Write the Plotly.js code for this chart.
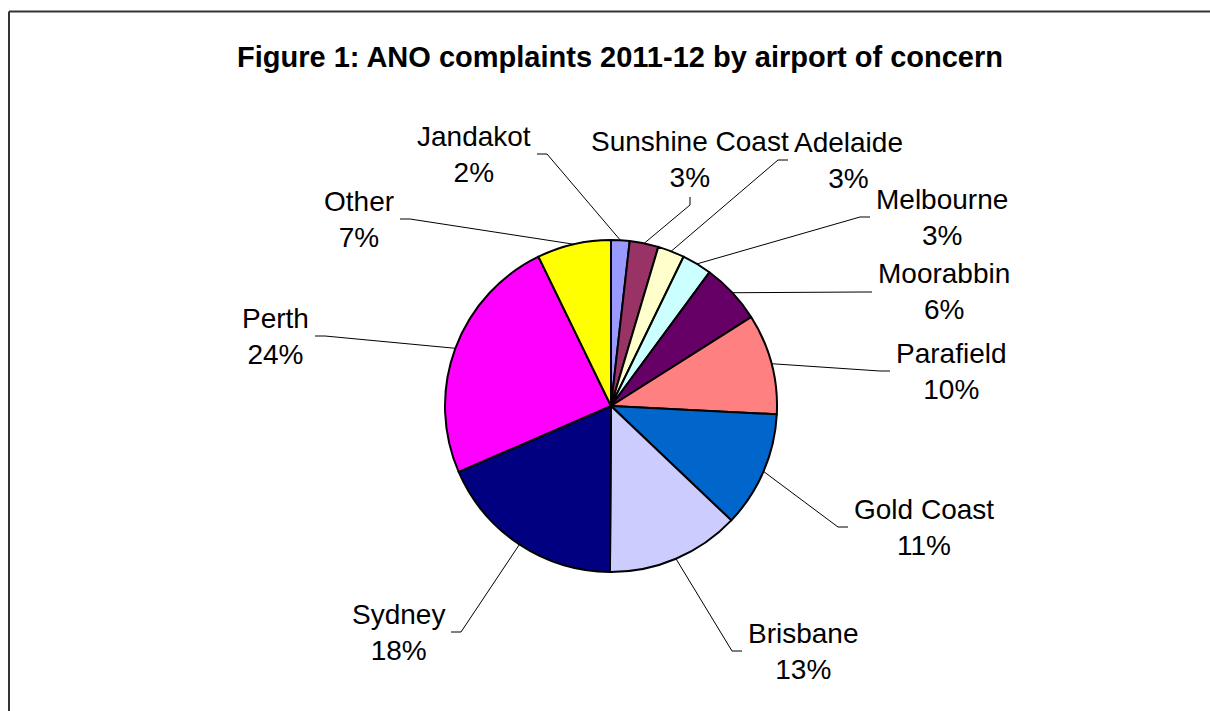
<!DOCTYPE html>
<html><head><meta charset="utf-8">
<script src="https://cdn.plot.ly/plotly-3.0.1.min.js"></script>
<style>html,body{margin:0;padding:0;background:#fff;overflow:hidden}#chart{width:1210px;height:711px}</style>
</head><body><div id="chart"></div>
<script>
// ---- data ----
const airports = ["Jandakot","Sunshine Coast","Adelaide","Melbourne","Moorabbin","Parafield","Gold Coast","Brisbane","Sydney","Perth","Other"];
const shares   = [1.8, 2.8, 2.6, 2.9, 5.9, 9.8, 11.3, 13.0, 18.4, 24.3, 7.2];
const colors   = ["#9999FF","#993366","#FFFFCC","#CCFFFF","#660066","#FF8080","#0066CC","#CCCCFF","#000080","#FF00FF","#FFFF00"];
const chartTitle = "Figure 1: ANO complaints 2011-12 by airport of concern";

// ---- layout (pixels) ----
const W = 1210, H = 711;
const cx = 611, cy = 406, R = 166;
// where each leader line meets its label, and on which side the text sits
const labelAnchors = [
  [537,154,"left"], [690,197,"above"], [788,160,"right"], [870,217,"right"],
  [872,292,"right"], [890,371,"right"], [848,527,"right"], [742,651,"right"],
  [451,632,"left"], [315,336,"left"], [400,219,"left"]
];
const TICK = 10, GAP = 4;
const px = x => x / W, py = y => 1 - y / H;

const total = shares.reduce((a,b)=>a+b,0);
const shapes = [];
const annotations = [];
let cum = 0;
shares.forEach((v,i)=>{
  const mid = 2*Math.PI*(cum + v/2)/total;
  cum += v;
  const P = [cx + R*Math.sin(mid), cy - R*Math.cos(mid)];
  const [axp, ayp, side] = labelAnchors[i];
  let E;
  if (side === "left") E = [axp + TICK, ayp];
  else if (side === "right") E = [axp - TICK, ayp];
  else E = [axp, ayp + 8];
  shapes.push({type:"path", xref:"paper", yref:"paper",
    path:`M ${px(P[0])},${py(P[1])} L ${px(E[0])},${py(E[1])} L ${px(axp)},${py(ayp)}`,
    line:{color:"#000", width:1}});
  const pct = Math.round(v/total*100) + "%";
  const ann = {text: airports[i] + "<br>" + pct, showarrow:false, align:"center",
    xref:"paper", yref:"paper",
    font:{family:"Liberation Sans, Arial, sans-serif", size:28, color:"#000"}};
  if (side === "left") Object.assign(ann,{x:px(axp-GAP), y:py(ayp), xanchor:"right", yanchor:"middle"});
  else if (side === "right") Object.assign(ann,{x:px(axp+GAP), y:py(ayp), xanchor:"left", yanchor:"middle"});
  else Object.assign(ann,{x:px(axp), y:py(ayp-2), xanchor:"center", yanchor:"bottom"});
  annotations.push(ann);
});

// outer frame (open to the right and bottom, as in the reference)
shapes.push({type:"line", xref:"paper", yref:"paper", x0:px(9), x1:px(9), y0:-0.5, y1:py(11.5),
  line:{color:"#333", width:2}});
shapes.push({type:"line", xref:"paper", yref:"paper", x0:px(9), x1:1.5, y0:py(11.5), y1:py(11.5),
  line:{color:"#333", width:2}});

const trace = {
  type:"pie", labels: airports, values: shares, sort:false, direction:"clockwise", rotation:0,
  marker:{colors: colors, line:{color:"#000", width:2}},
  textinfo:"none", hoverinfo:"label+percent", showlegend:false,
  domain:{x:[px(cx-R), px(cx+R)], y:[py(cy+R), py(cy-R)]}
};

const layout = {
  width: W, height: H, margin:{l:0,r:0,t:0,b:0},
  paper_bgcolor:"#fff", plot_bgcolor:"#fff", showlegend:false,
  title:{text: chartTitle, x: 620/W, xref:"container", xanchor:"center", y: 1-57/H, yref:"container", yanchor:"middle",
    font:{family:"Liberation Sans, Arial, sans-serif", size:29, color:"#000", weight:"bold"}},
  shapes: shapes, annotations: annotations
};
Plotly.newPlot("chart", [trace], layout, {staticPlot:true});
</script>
</body></html>
